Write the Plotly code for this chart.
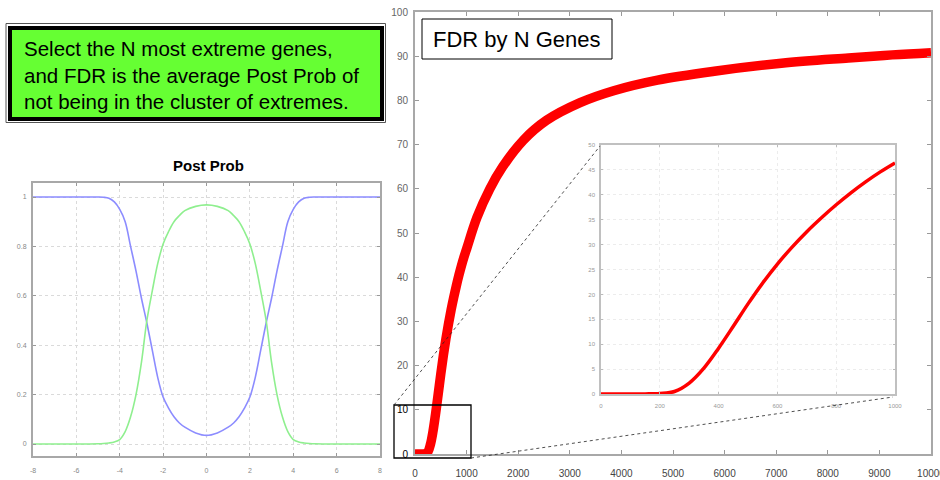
import plotly.graph_objects as go

# ---------------- data ----------------
post_x = [-8, -6, -5, -4.75, -4.5, -4.25, -4, -3.75, -3.5, -3.25, -3, -2.75, -2.5, -2.25, -2, -1.75, -1.5, -1.25, -1, -0.5, 0,
          0.5, 1, 1.25, 1.5, 1.75, 2, 2.25, 2.5, 2.75, 3, 3.25, 3.5, 3.75, 4, 4.25, 4.5, 4.75, 5, 6, 8]
post_green = [0, 0, 0.001, 0.002, 0.004, 0.008, 0.018, 0.05, 0.11, 0.2, 0.33, 0.5, 0.62, 0.73, 0.81, 0.86, 0.9, 0.925, 0.945, 0.962, 0.968,
              0.962, 0.945, 0.925, 0.9, 0.86, 0.81, 0.73, 0.62, 0.5, 0.33, 0.2, 0.11, 0.05, 0.018, 0.008, 0.004, 0.002, 0.001, 0, 0]
post_blue = [1, 1, 1, 0.999, 0.995, 0.98, 0.95, 0.9, 0.8, 0.7, 0.59, 0.49, 0.38, 0.27, 0.19, 0.145, 0.11, 0.085, 0.068, 0.045, 0.035,
             0.045, 0.068, 0.085, 0.11, 0.145, 0.19, 0.27, 0.38, 0.49, 0.59, 0.7, 0.8, 0.9, 0.95, 0.98, 0.995, 0.999, 1, 1, 1]

n_genes = [0, 100, 150, 200, 250, 300, 350, 400, 450, 500, 550, 600, 650, 700, 750, 800, 850, 900, 950, 1000,
           1200, 1450, 1700, 2100, 2550, 3200, 3850, 4700, 5800, 7100, 8400, 9250, 10000]
fdr = [0, 0, 0.02, 0.1, 0.5, 2.2, 5.2, 9.2, 13.6, 18.1, 22.3, 26.1, 29.5, 32.6, 35.4, 38.0, 40.4, 42.6, 44.6, 46.4,
       53.5, 60, 65, 71, 75.5, 79.5, 82.2, 84.6, 86.6, 88.4, 89.6, 90.3, 90.8]

inset_n = [v for v in n_genes if v <= 1000]
inset_fdr = fdr[:len(inset_n)]

main_yticks = [0, 10, 20, 30, 40, 50, 60, 70, 80, 90, 100]
main_yticktext = ['<span style="color:#000">0</span>', '<span style="color:#000">10</span>',
                  '20', '30', '40', '50', '60', '70', '80', '90', '100']
main_xticks = [0, 1000, 2000, 3000, 4000, 5000, 6000, 7000, 8000, 9000, 10000]
main_xticktext = ['0', '1000', '2000', '3000', '4000', '5000', '6000', '7000', '8000', '9000', '10000']
post_xticks = [-8, -6, -4, -2, 0, 2, 4, 6, 8]
post_xticktext = ['-8', '-6', '-4', '-2', '0', '2', '4', '6', '8']
post_yticks = [0, 0.2, 0.4, 0.6, 0.8, 1]
inset_xticks = [0, 200, 400, 600, 800, 1000]
inset_yticks = [0, 5, 10, 15, 20, 25, 30, 35, 40, 45, 50]

W, H = 940, 480
def px(x):
    return x / W
def py(y):
    return 1 - y / H

fig = go.Figure()

fig.add_trace(go.Scatter(x=post_x, y=post_blue, mode="lines", line=dict(color="#8c8cff", width=1.6, shape="spline"),
                         xaxis="x", yaxis="y", showlegend=False))
fig.add_trace(go.Scatter(x=post_x, y=post_green, mode="lines", line=dict(color="#8fef8f", width=1.6, shape="spline"),
                         xaxis="x", yaxis="y", showlegend=False))
fig.add_trace(go.Scatter(x=n_genes, y=fdr, mode="lines", line=dict(color="#ff0000", width=9.5, shape="spline"),
                         xaxis="x2", yaxis="y2", showlegend=False))
fig.add_trace(go.Scatter(x=inset_n, y=inset_fdr, mode="lines", line=dict(color="#ff0000", width=3.5, shape="spline"),
                         xaxis="x3", yaxis="y3", showlegend=False))

frame = dict(showline=True, mirror="ticks", linecolor="#a8a8a8", linewidth=2, ticks="inside",
             tickcolor="#999", zeroline=False, automargin=False)

fig.update_layout(
    width=W, height=H, margin=dict(l=0, r=0, t=0, b=0, autoexpand=False),
    paper_bgcolor="white", plot_bgcolor="white",
    font=dict(family="Liberation Sans, Arial, sans-serif"),
    xaxis=dict(domain=[px(33), px(380)], range=[-8, 8], tickvals=post_xticks, ticktext=post_xticktext, ticklen=3,
               showgrid=True, gridcolor="#dadada", griddash="dot", gridwidth=1,
               tickfont=dict(size=7, color="#888"), ticklabelstandoff=7, anchor="y", **frame),
    yaxis=dict(domain=[py(456), py(183)], range=[-0.0486, 1.0567], tickvals=post_yticks, ticklen=3,
               showgrid=True, gridcolor="#dadada", griddash="dot", gridwidth=1,
               tickfont=dict(size=7, color="#888"), ticklabelstandoff=3, anchor="x", **frame),
    xaxis2=dict(domain=[px(415), px(931)], range=[0, 10000], tickvals=main_xticks, ticktext=main_xticktext, ticklen=4,
                showgrid=False, tickfont=dict(size=10, color="#444"), ticklabelstandoff=9,
                ticklabeloverflow="allow", anchor="y2", **frame),
    yaxis2=dict(domain=[py(454), py(12)], range=[0, 100], tickvals=main_yticks, ticktext=main_yticktext, ticklen=4,
                showgrid=False, tickfont=dict(size=10, color="#666"), ticklabelstandoff=3, anchor="x2", **frame),
    xaxis3=dict(domain=[px(601), px(895)], range=[0, 1000], tickvals=inset_xticks, ticklen=2,
                showgrid=True, gridcolor="#ececec", griddash="dot", gridwidth=1,
                tickfont=dict(size=6, color="#999"), ticklabelstandoff=5, anchor="y3",
                showline=True, mirror="ticks", linecolor="#c0c0c0", linewidth=1.5, ticks="inside",
                tickcolor="#bbb", zeroline=False, automargin=False),
    yaxis3=dict(domain=[py(394), py(145)], range=[0, 50], tickvals=inset_yticks, ticklen=2,
                showgrid=True, gridcolor="#ececec", griddash="dot", gridwidth=1,
                tickfont=dict(size=6, color="#999"), ticklabelstandoff=3, anchor="x3",
                showline=True, mirror="ticks", linecolor="#c0c0c0", linewidth=1.5, ticks="inside",
                tickcolor="#bbb", zeroline=False, automargin=False),
)

shapes = [
    # green note box: outer thin line, thick black border, green fill
    dict(type="rect", xref="paper", yref="paper", x0=px(6), x1=px(385.5), y0=py(122.5), y1=py(23.5),
         line=dict(color="#555", width=1), fillcolor="white", layer="below"),
    dict(type="rect", xref="paper", yref="paper", x0=px(10), x1=px(382), y0=py(119), y1=py(28),
         line=dict(color="black", width=4), fillcolor="#66ff33"),
    # FDR title box
    dict(type="rect", xref="paper", yref="paper", x0=px(422), x1=px(612), y0=py(59), y1=py(19),
         line=dict(color="black", width=1), fillcolor="white"),
    # zoom rectangle
    dict(type="rect", xref="paper", yref="paper", x0=px(394), x1=px(471), y0=py(458), y1=py(405),
         line=dict(color="black", width=1.3)),
    # connector lines
    dict(type="line", xref="paper", yref="paper", x0=px(394), y0=py(405), x1=px(600), y1=py(146),
         line=dict(color="#222", width=0.8, dash="dot")),
    dict(type="line", xref="paper", yref="paper", x0=px(471), y0=py(458), x1=px(893), y1=py(397),
         line=dict(color="#222", width=0.8, dash="dot")),
]
fig.update_layout(shapes=shapes)

fig.add_annotation(xref="paper", yref="paper", x=px(22), y=py(74.5), xanchor="left", yanchor="middle",
                   align="left", showarrow=False,
                   text="Select the N most extreme genes,<br>and FDR is the average Post Prob of<br>not being in the cluster of extremes.",
                   font=dict(size=20.5, color="black", family="Liberation Sans, Arial, sans-serif"))
fig.add_annotation(xref="paper", yref="paper", x=px(517), y=py(39.5), xanchor="center", yanchor="middle",
                   showarrow=False, text="FDR by N Genes",
                   font=dict(size=22, color="black", family="Liberation Sans, Arial, sans-serif"))
fig.add_annotation(xref="paper", yref="paper", x=px(208), y=py(165), xanchor="center", yanchor="middle",
                   showarrow=False, text="<b>Post Prob</b>",
                   font=dict(size=15, color="black", family="Liberation Sans, Arial, sans-serif"))

fig.write_html("out.html")
